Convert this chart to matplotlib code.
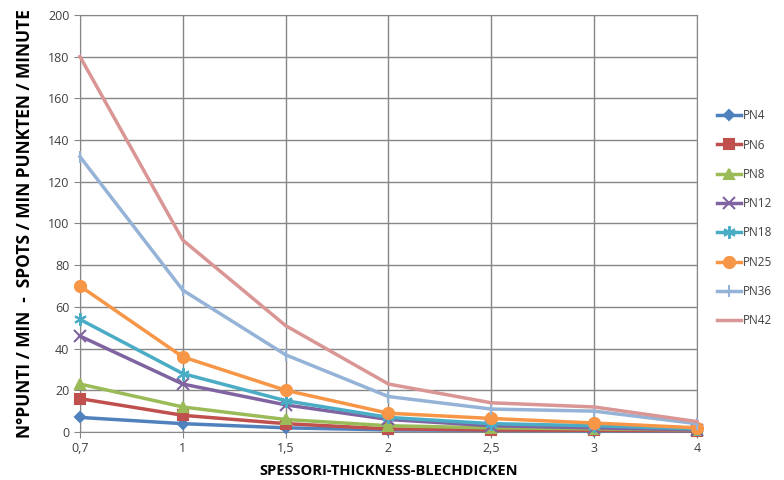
import matplotlib
matplotlib.use("Agg")
import matplotlib.pyplot as plt

# Data
thickness = ["0,7", "1", "1,5", "2", "2,5", "3", "4"]
pn4 = [7, 4, 2, 1, 0.8, 0.6, 0.4]
pn6 = [16, 8, 4, 1.5, 1, 0.8, 0.6]
pn8 = [23, 12, 6, 3, 2, 1.5, 1]
pn12 = [46, 23, 13, 6, 3, 2, 1]
pn18 = [54, 28, 15, 7, 4, 3, 1.5]
pn25 = [70, 36, 20, 9, 6.5, 4.3, 2]
pn36 = [132, 68, 37, 17, 11, 10, 4]
pn42 = [180, 92, 51, 23, 14, 12, 5]

series = ["PN4", "PN6", "PN8", "PN12", "PN18", "PN25", "PN36", "PN42"]
values = [pn4, pn6, pn8, pn12, pn18, pn25, pn36, pn42]
colors = ["#4F81BD", "#C0504D", "#9BBB59", "#8064A2", "#4BACC6",
          "#F79646", "#95B3D7", "#D99694"]
markers = ["D", "s", "^", "x", (6, 2, 0), "o", "|", None]
msizes = [5, 7, 7, 9, 9, 8, 9, 0]

plt.rcParams["font.family"] = ["Open Sans", "DejaVu Sans"]

fig = plt.figure(figsize=(7.84, 4.8), dpi=100)
ax = fig.add_axes([0.102, 0.1, 0.787, 0.869])

x = list(range(len(thickness)))
for name, vals, c, m, ms in zip(series, values, colors, markers, msizes):
    ax.plot(x, vals, color=c, lw=2.5, marker=m, markersize=ms,
            markeredgewidth=1.5, label=name, clip_on=False, zorder=3)

ax.set_xlim(0, len(thickness) - 1)
ax.set_ylim(0, 200)
ax.set_yticks(range(0, 201, 20))
ax.set_xticks(x)
ax.set_xticklabels(thickness)
ax.grid(True, color="#868686", lw=1)
ax.set_axisbelow(True)
for s in ax.spines.values():
    s.set_color("#868686")
ax.tick_params(colors="#868686", labelcolor="#404040", labelsize=9, length=4)

ax.set_xlabel("SPESSORI-THICKNESS-BLECHDICKEN", fontsize=10.5, fontweight="bold", labelpad=6)
ax.set_ylabel("N°PUNTI / MIN  -  SPOTS / MIN PUNKTEN / MINUTE", fontsize=12.5,
              fontweight="bold", labelpad=10)

leg = ax.legend(loc="upper left", bbox_to_anchor=(1.025, 0.785), frameon=False,
                fontsize=8.5, labelspacing=1.38, handlelength=2.0,
                handletextpad=0.2, borderaxespad=0)
for t in leg.get_texts():
    t.set_color("#404040")

plt.savefig("out.png", dpi=100)
